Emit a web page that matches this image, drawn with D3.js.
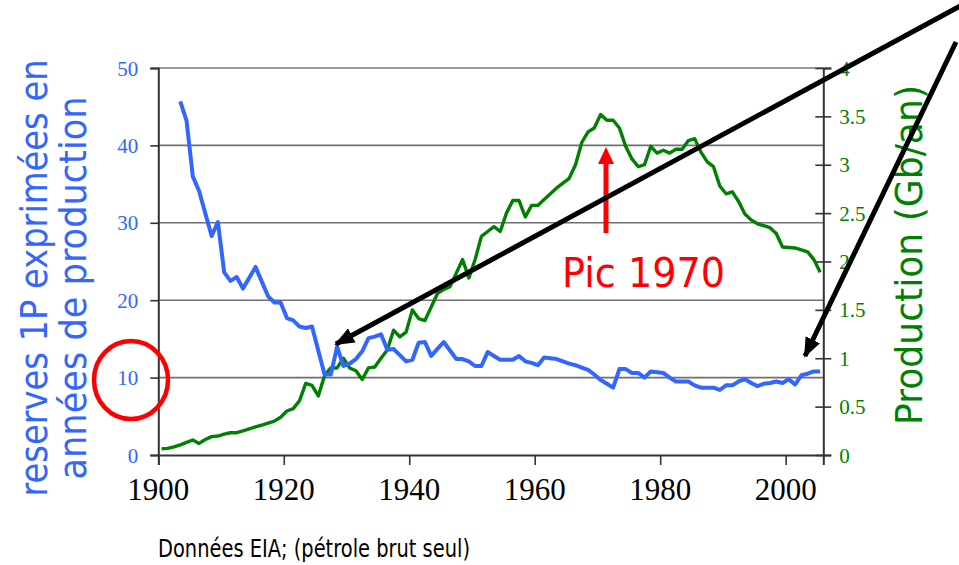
<!DOCTYPE html>
<html>
<head>
<meta charset="utf-8">
<script src="https://cdn.jsdelivr.net/npm/d3@7"></script>
</head>
<body style="margin:0">
<svg width="959" height="565" font-family="Times New Roman"></svg>
<script>
// annees 1900-2005
var firstYear = 1900, lastYear = 2005;

// production (Gb/an), une ligne par decennie
var production = [
  0.063, 0.069, 0.085, 0.105, 0.13, 0.155, 0.12, 0.16, 0.19, 0.196,
  0.215, 0.23, 0.23, 0.25, 0.27, 0.29, 0.31, 0.33, 0.35, 0.39,
  0.455, 0.48, 0.56, 0.74, 0.72, 0.61, 0.82, 0.90, 0.90, 1.00,
  0.90, 0.87, 0.78, 0.90, 0.91, 1.00, 1.085, 1.29, 1.22, 1.27,
  1.50, 1.41, 1.39, 1.53, 1.67, 1.71, 1.74, 1.88, 2.02, 1.83,
  2.02, 2.26, 2.31, 2.36, 2.31, 2.50, 2.63, 2.63, 2.46, 2.58,
  2.58, 2.64, 2.70, 2.76, 2.81, 2.86, 3.00, 3.23, 3.34, 3.38,
  3.52, 3.46, 3.46, 3.38, 3.19, 3.06, 2.98, 3.00, 3.19, 3.12,
  3.15, 3.12, 3.16, 3.16, 3.25, 3.27, 3.13, 3.03, 2.98, 2.78,
  2.70, 2.72, 2.62, 2.49, 2.43, 2.39, 2.37, 2.35, 2.29, 2.15,
  2.145, 2.14, 2.12, 2.10, 2.02, 1.89
];

// reserves 1P en annees de production
var reserves = [
  null, null, null, 45.7, 43.2, 36.0, 34.1, 31.2, 28.3, 30.1,
  23.6, 22.5, 23.0, 21.5, 22.9, 24.3, 22.4, 20.5, 19.7, 19.7,
  17.7, 17.4, 16.6, 16.4, 16.6, 13.5, 10.4, 10.4, 14.0, 11.5,
  11.8, 12.4, 13.4, 15.1, 15.3, 15.6, 13.6, 13.7, 12.9, 12.1,
  12.3, 14.5, 14.6, 12.8, 13.7, 14.6, 13.5, 12.4, 12.4, 12.1,
  11.5, 11.5, 13.3, 12.8, 12.3, 12.3, 12.3, 12.8, 12.1, 11.9,
  11.6, 12.6, 12.5, 12.4, 12.1, 11.8, 11.6, 11.3, 11.0, 10.4,
  9.7, 9.2, 8.7, 11.1, 11.1, 10.6, 10.6, 10.0, 10.8, 10.7,
  10.6, 10.0, 9.5, 9.5, 9.5, 9.0, 8.7, 8.7, 8.7, 8.4,
  9.0, 9.0, 9.5, 9.8, 9.3, 8.9, 9.2, 9.3, 9.5, 9.3,
  9.8, 9.1, 10.3, 10.5, 10.8, 10.8
];

var xTicks = [1900, 1920, 1940, 1960, 1980, 2000];
var leftTicks = [0, 10, 20, 30, 40, 50];
var rightTicks = [0, 0.5, 1, 1.5, 2, 2.5, 3, 3.5, 4];

var blue = "#3366ff", green = "#008000";
var years = d3.range(firstYear, lastYear + 1);

var svg = d3.select("svg");

var x = d3.scaleLinear().domain([firstYear, lastYear + 1]).range([158.3, 823.3]);
var yL = d3.scaleLinear().domain([0, 50]).range([455, 68]);
var yR = d3.scaleLinear().domain([0, 4]).range([455, 68]);

// grille
svg.append("g").selectAll("line").data(leftTicks.slice(1))
  .enter().append("line")
  .attr("x1", x(firstYear)).attr("x2", x(lastYear + 1))
  .attr("y1", d => yL(d)).attr("y2", d => yL(d))
  .attr("stroke", d => d == 50 ? "#9a9a9a" : "#707070")
  .attr("stroke-width", d => d == 50 ? 2.2 : 1.6);

// axes (traits seulement)
var gL = svg.append("g").attr("transform", "translate(" + x(firstYear) + ",0)")
  .call(d3.axisLeft(yL).tickValues(leftTicks).tickSize(8).tickFormat(""));
var gR = svg.append("g").attr("transform", "translate(" + x(lastYear + 1) + ",0)")
  .call(d3.axisRight(yR).tickValues(rightTicks).tickSize(8).tickFormat(""));
gR.selectAll(".tick line").attr("x1", -8);
var gB = svg.append("g").attr("transform", "translate(0," + yL(0) + ")")
  .call(d3.axisBottom(x).tickValues(xTicks).tickSize(10).tickFormat(""));
[gL, gR, gB].forEach(function(g) {
  g.select(".domain").attr("stroke", "#333").attr("stroke-width", 2);
  g.selectAll(".tick line").attr("stroke", "#333").attr("stroke-width", 1.6);
  g.selectAll("text").remove();
});

// libelles des axes (police heritee du svg : Times New Roman)
svg.append("g").selectAll("text").data(leftTicks).enter().append("text")
  .attr("x", x(firstYear) - 20).attr("y", d => yL(d)).attr("dy", "0.36em")
  .attr("font-size", 21).attr("text-anchor", "end").attr("fill", blue)
  .text(d => String(d));
svg.append("g").selectAll("text").data(rightTicks).enter().append("text")
  .attr("x", x(lastYear + 1) + 16).attr("y", d => yR(d)).attr("dy", "0.36em")
  .attr("font-size", 21).attr("fill", green)
  .text(d => String(d));
svg.append("g").selectAll("text").data(xTicks).enter().append("text")
  .attr("x", d => x(d)).attr("y", yL(0) + 45)
  .attr("font-size", 31).attr("text-anchor", "middle").attr("fill", "#000")
  .text(d => String(d));

// courbes
var lineRes = d3.line()
  .defined(d => d != null)
  .x((d, i) => x(years[i] + 0.5))
  .y(d => yL(d));
var lineProd = d3.line()
  .x((d, i) => x(years[i] + 0.5))
  .y(d => yR(d));

svg.append("path").datum(production)
  .attr("d", lineProd).attr("fill", "none")
  .attr("stroke", green).attr("stroke-width", 3.4).attr("stroke-linejoin", "round");
svg.append("path").datum(reserves)
  .attr("d", lineRes).attr("fill", "none")
  .attr("stroke", blue).attr("stroke-width", 4).attr("stroke-linejoin", "round");

// titres
var comic = "DejaVu Sans";
svg.append("text").attr("transform", "translate(47,278) rotate(-90)")
  .attr("text-anchor", "middle").attr("font-family", comic).attr("font-size", 38)
  .attr("fill", blue).attr("textLength", 437).attr("lengthAdjust", "spacingAndGlyphs")
  .text("reserves 1P exprimées en");
svg.append("text").attr("transform", "translate(86,288) rotate(-90)")
  .attr("text-anchor", "middle").attr("font-family", comic).attr("font-size", 38)
  .attr("fill", blue).attr("textLength", 383).attr("lengthAdjust", "spacingAndGlyphs")
  .text("années de production");
svg.append("text").attr("transform", "translate(922,255) rotate(-90)")
  .attr("text-anchor", "middle").attr("font-family", comic).attr("font-size", 38)
  .attr("fill", green).attr("textLength", 340).attr("lengthAdjust", "spacingAndGlyphs")
  .text("Production (Gb/an)");
svg.append("text").attr("x", 158).attr("y", 557)
  .attr("font-family", comic).attr("font-size", 25).attr("fill", "#000")
  .attr("textLength", 312).attr("lengthAdjust", "spacingAndGlyphs")
  .text("Données EIA; (pétrole brut seul)");

// annotations
svg.append("text").attr("x", 562).attr("y", 287)
  .attr("font-family", comic).attr("font-size", 40).attr("fill", "#ff0000")
  .attr("textLength", 163).attr("lengthAdjust", "spacingAndGlyphs")
  .text("Pic 1970");

svg.append("line").attr("x1", 606).attr("y1", 233).attr("x2", 606).attr("y2", 160)
  .attr("stroke", "#ff0000").attr("stroke-width", 5);
svg.append("path").attr("d", "M598,164 L606,147 L614,164 Z").attr("fill", "#ff0000");

svg.append("ellipse").attr("cx", 131).attr("cy", 380).attr("rx", 37).attr("ry", 39)
  .attr("fill", "none").attr("stroke", "#ff0000").attr("stroke-width", 4.5);

var defs = svg.append("defs");
defs.append("marker").attr("id", "head")
  .attr("markerUnits", "userSpaceOnUse")
  .attr("viewBox", "0 0 20 16").attr("refX", 18).attr("refY", 8)
  .attr("markerWidth", 20).attr("markerHeight", 16).attr("orient", "auto")
  .append("path").attr("d", "M0,0 L20,8 L0,16 Z").attr("fill", "#000");

svg.append("line").attr("x1", 962).attr("y1", 5).attr("x2", 336).attr("y2", 344)
  .attr("stroke", "#000").attr("stroke-width", 5).attr("marker-end", "url(#head)");
svg.append("line").attr("x1", 956).attr("y1", 42).attr("x2", 805).attr("y2", 356)
  .attr("stroke", "#000").attr("stroke-width", 5).attr("marker-end", "url(#head)");
</script>
</body>
</html>
